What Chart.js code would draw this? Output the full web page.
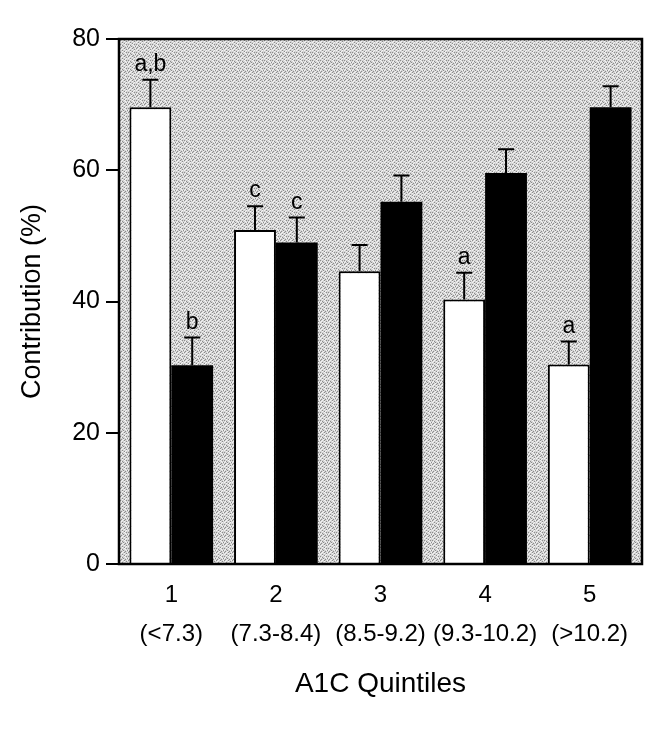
<!DOCTYPE html>
<html><head><meta charset="utf-8">
<script src="https://cdn.jsdelivr.net/npm/chart.js@4/dist/chart.umd.min.js"></script>
<style>html,body{margin:0;padding:0;background:#fff}canvas{display:block}</style>
</head><body>
<canvas id="c" width="669" height="741"></canvas>
<script>
const quintiles = ["1","2","3","4","5"];
const ranges = ["(<7.3)","(7.3-8.4)","(8.5-9.2)","(9.3-10.2)","(>10.2)"];
const whiteValues = [69.6, 50.9, 44.6, 40.3, 30.4];
const whiteErrors = [4.2, 3.6, 4.0, 4.1, 3.5];
const blackValues = [30.3, 49.0, 55.2, 59.6, 69.6];
const blackErrors = [4.2, 3.8, 4.0, 3.6, 3.2];
const whiteLetters = ["a,b","c","","a","a"];
const blackLetters = ["b","c","","",""];
const yTicks = [0,20,40,60,80];

const FONT = "'Liberation Sans', Arial, Helvetica, sans-serif";

function makePattern(ctx){
  const rows = [
    "x.o.x..o",
    ".o..o.x.",
    "o.x...o.",
    "..o.xo..",
    "x...o.x.",
    ".ox..o..",
    "o..x..ox",
    ".x.o.x.."
  ];
  const c = document.createElement('canvas');
  c.width = 8; c.height = 8;
  const g = c.getContext('2d');
  g.fillStyle = '#d4d4d4'; g.fillRect(0,0,8,8);
  rows.forEach((r,yy)=>{ [...r].forEach((ch,xx)=>{
    if(ch==='x'){g.fillStyle='#8c8c8c';g.fillRect(xx,yy,1,1);}
    else if(ch==='o'){g.fillStyle='#f4f4f4';g.fillRect(xx,yy,1,1);}
  });});
  return ctx.createPattern(c,'repeat');
}

const bgPlugin = {
  id:'bg',
  beforeDatasetsDraw(chart){
    const {ctx, chartArea:a} = chart;
    ctx.save();
    ctx.fillStyle = makePattern(ctx);
    ctx.fillRect(a.left, a.top, a.right-a.left, a.bottom-a.top);
    ctx.restore();
  },
  afterDraw(chart){
    const {ctx, chartArea:a} = chart;
    ctx.save();
    ctx.strokeStyle = '#000'; ctx.lineWidth = 2.5;
    ctx.strokeRect(a.left, a.top, a.right-a.left, a.bottom-a.top);
    ctx.restore();
  }
};

const errPlugin = {
  id:'err',
  afterDatasetsDraw(chart){
    const ctx = chart.ctx, y = chart.scales.y;
    ctx.save();
    chart.data.datasets.forEach((ds,di)=>{
      const meta = chart.getDatasetMeta(di);
      meta.data.forEach((bar,i)=>{
        const x = bar.x;
        const yb = y.getPixelForValue(ds.data[i]);
        const yt = y.getPixelForValue(ds.data[i] + ds.errorValues[i]);
        ctx.strokeStyle = '#000'; ctx.lineWidth = 2;
        ctx.beginPath(); ctx.moveTo(x, yb); ctx.lineTo(x, yt);
        ctx.moveTo(x-8, yt); ctx.lineTo(x+8, yt); ctx.stroke();
        const lab = ds.letters[i];
        if(lab){
          ctx.fillStyle = '#000';
          ctx.font = '23px ' + FONT;
          ctx.textAlign = 'center'; ctx.textBaseline = 'alphabetic';
          ctx.fillText(lab, x, yt - 9);
        }
      });
    });
    ctx.restore();
  }
};

new Chart(document.getElementById('c'), {
  type:'bar',
  data:{
    labels: quintiles.map((q,i)=>[q, ranges[i]]),
    datasets:[
      {label:'white', data:whiteValues, errorValues:whiteErrors, letters:whiteLetters,
       backgroundColor:'#ffffff', borderColor:'#000', borderWidth:2, borderSkipped:'bottom'},
      {label:'black', data:blackValues, errorValues:blackErrors, letters:blackLetters,
       backgroundColor:'#000000', borderColor:'#000', borderWidth:0}
    ]
  },
  options:{
    responsive:false, animation:false, devicePixelRatio:1,
    layout:{padding:{top:39, right:27, left:0, bottom:0}},
    plugins:{legend:{display:false}, tooltip:{enabled:false}},
    datasets:{bar:{categoryPercentage:0.8, barPercentage:1.0}},
    scales:{
      x:{
        grid:{display:false, drawTicks:false}, border:{display:false},
        ticks:{color:'#000', font:{family:FONT, size:24, lineHeight:1.62}, padding:12, maxRotation:0, autoSkip:false},
        title:{display:true, text:'A1C Quintiles', color:'#000', font:{family:FONT, size:28}, padding:{top:10,bottom:40}},
        afterFit(s){ s.height = 741 - 564; }
      },
      y:{
        min:0, max:80,
        afterBuildTicks(s){ s.ticks = yTicks.map(v=>({value:v})); },
        grid:{drawOnChartArea:false, drawTicks:true, tickLength:13, color:'#000', lineWidth:2},
        border:{display:false},
        ticks:{color:'#000', font:{family:FONT, size:25}, padding:6},
        title:{display:true, text:'Contribution (%)', color:'#000', font:{family:FONT, size:27}, padding:{top:16,bottom:0}},
        afterFit(s){ s.width = 119; }
      }
    }
  },
  plugins:[bgPlugin, errPlugin]
});
</script>
</body></html>
